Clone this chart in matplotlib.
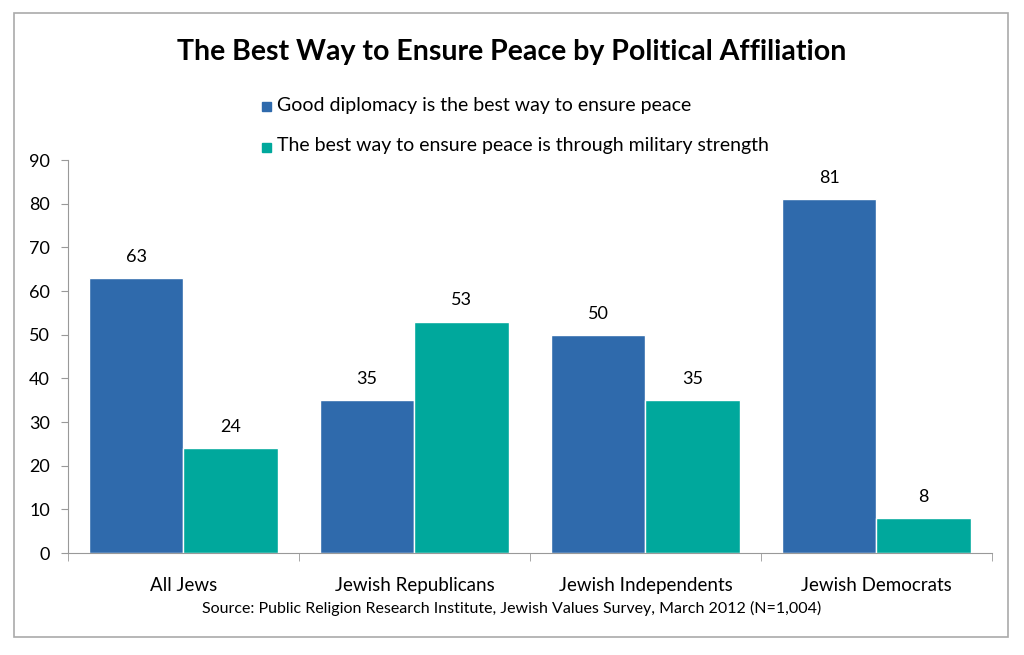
import numpy as np
import matplotlib.pyplot as plt
from matplotlib.patches import Rectangle

plt.rcParams['font.family'] = ['Lato', 'DejaVu Sans']

groups = ['All Jews', 'Jewish Republicans', 'Jewish Independents', 'Jewish Democrats']
diplomacy = [63, 35, 50, 81]
military = [24, 53, 35, 8]
series_names = ['Good diplomacy is the best way to ensure peace',
                'The best way to ensure peace is through military strength']
yticks = [0, 10, 20, 30, 40, 50, 60, 70, 80, 90]

myblue = '#2F6AAC'
myteal = '#00A89C'

fig = plt.figure(figsize=(10.24, 6.55), dpi=100)
ax = fig.add_axes([0.0664, 0.1557, 0.9023, 0.6])

x = np.arange(len(groups))
w = 0.41
b1 = ax.bar(x - w/2, diplomacy, w, color=myblue, edgecolor='white', linewidth=1)
b2 = ax.bar(x + w/2, military, w, color=myteal, edgecolor='white', linewidth=1)

for bars, vals in [(b1, diplomacy), (b2, military)]:
    for r, v in zip(bars, vals):
        ax.text(r.get_x() + r.get_width()/2, v + 3.0, str(v), ha='center', va='bottom', fontsize=13)

ax.set_xlim(-0.5, len(groups) - 0.5)
ax.set_ylim(0, 90)
ax.set_yticks(yticks)
ax.tick_params(axis='y', labelsize=13, length=5, color='#999999', pad=8)
ax.set_xticks(x)
ax.set_xticklabels(groups, fontsize=13.5)
ax.tick_params(axis='x', length=0, pad=17)
ax.set_xticks(np.arange(-0.5, len(groups)), minor=True)
ax.tick_params(axis='x', which='minor', length=6, color='#999999')
for s in ['top', 'right']:
    ax.spines[s].set_visible(False)
for s in ['left', 'bottom']:
    ax.spines[s].set_color('#999999')

fig.text(0.5, 0.921, 'The Best Way to Ensure Peace by Political Affiliation',
         ha='center', va='center', fontsize=20.5, fontweight='bold')

# legend as simple squares + text
for i, (name, c) in enumerate(zip(series_names, [myblue, myteal])):
    yy = 1 - (105 + 41*i)/655
    fig.patches.append(Rectangle((262/1024, yy - 0.009), 0.0085, 0.0135,
                                 transform=fig.transFigure, color=c))
    fig.text(277/1024, yy, name, va='center', fontsize=14)

fig.text(0.5, 1 - 608/655, 'Source: Public Religion Research Institute, Jewish Values Survey, March 2012 (N=1,004)',
         ha='center', va='center', fontsize=11.5)

fig.patches.append(Rectangle((14/1024, 1 - 637/655), (1008-14)/1024, (637-13)/655,
                             transform=fig.transFigure, fill=False, edgecolor='#aaaaaa', linewidth=1.2))

plt.savefig('out.png', dpi=100)
